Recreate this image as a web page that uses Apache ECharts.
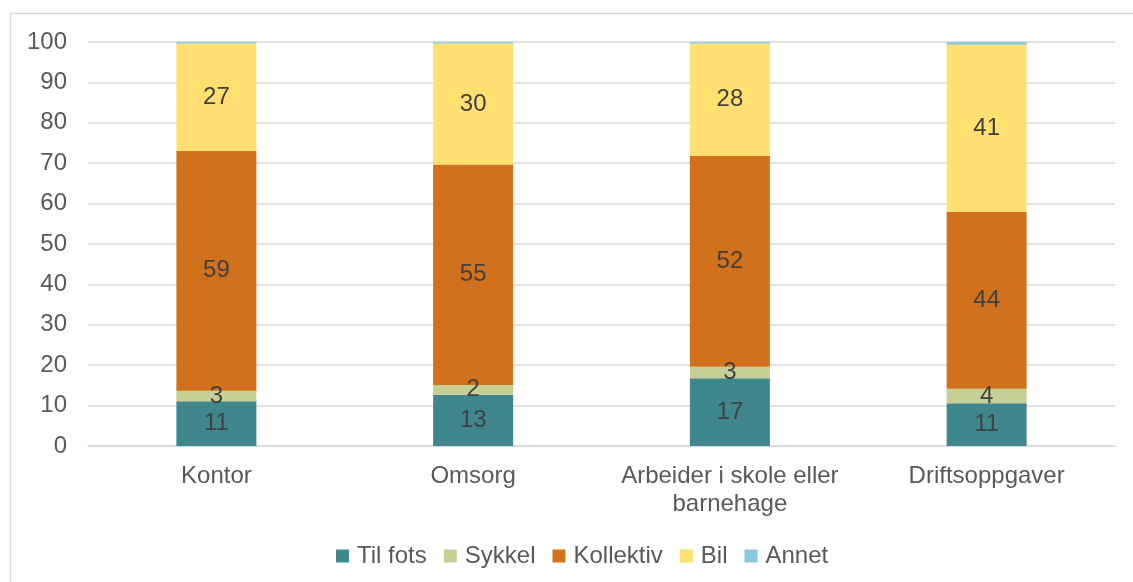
<!DOCTYPE html>
<html>
<head>
<meta charset="utf-8">
<script src="https://cdn.jsdelivr.net/npm/echarts@6/dist/echarts.min.js"></script>
<style>
  html, body { margin: 0; padding: 0; background: #fff; }
  #chart { width: 1133px; height: 582px; }
</style>
</head>
<body>
<div id="chart"></div>
<script>
// Reisemåte etter type arbeid (prosent)
const categories = ['Kontor', 'Omsorg', 'Arbeider i skole eller\nbarnehage', 'Driftsoppgaver'];
const tilFots = [11.1, 12.7, 16.8, 10.6];
const sykkel = [2.6, 2.4, 2.8, 3.6];
const kollektiv = [59.3, 54.6, 52.2, 43.8];
const bil = [26.6, 29.9, 27.8, 41.3];
const annet = [0.4, 0.4, 0.4, 0.7];
const yTicks = [0, 10, 20, 30, 40, 50, 60, 70, 80, 90, 100];

const font = 'Liberation Sans, Arial, sans-serif';
const size = 24;

function serie(name, data, color, showLabel) {
  return {
    name: name,
    type: 'bar',
    stack: 'total',
    barWidth: 80,
    data: data,
    itemStyle: { color: color },
    label: {
      show: showLabel,
      position: 'inside',
      color: '#404040',
      fontSize: size,
      fontFamily: font,
      formatter: p => Math.round(p.value)
    },
    emphasis: { disabled: true }
  };
}

const chart = echarts.init(document.getElementById('chart'));
chart.setOption({
  animation: false,
  backgroundColor: '#ffffff',
  grid: { left: 88, right: 18, top: 42, bottom: 136 },
  graphic: [{
    type: 'rect',
    shape: { x: 10.5, y: 13.5, width: 1140, height: 600 },
    style: { fill: 'none', stroke: '#d9d9d9', lineWidth: 1.5 },
    silent: true
  }],
  legend: {
    left: 331,
    top: 539,
    itemWidth: 13,
    itemHeight: 13,
    itemGap: 17,
    icon: 'rect',
    textStyle: { color: '#595959', fontSize: size, fontFamily: font, padding: [0, 0, 0, 3] },
    data: ['Til fots', 'Sykkel', 'Kollektiv', 'Bil', 'Annet']
  },
  xAxis: {
    type: 'category',
    data: categories,
    axisLine: { lineStyle: { color: '#d9d9d9', width: 1.5 } },
    axisTick: { show: false },
    axisLabel: { interval: 0, color: '#595959', fontSize: size, fontFamily: font, margin: 16, lineHeight: 28 }
  },
  yAxis: {
    type: 'value',
    min: yTicks[0],
    max: yTicks[yTicks.length - 1],
    interval: 10,
    axisLine: { show: false },
    axisTick: { show: false },
    splitLine: { lineStyle: { color: '#d9d9d9', width: 1.5 } },
    axisLabel: { color: '#595959', fontSize: size, fontFamily: font, margin: 21 }
  },
  series: [
    serie('Til fots', tilFots, '#3f878d', true),
    serie('Sykkel', sykkel, '#c6cf94', true),
    serie('Kollektiv', kollektiv, '#d2711c', true),
    serie('Bil', bil, '#ffe071', true),
    serie('Annet', annet, '#8dc8dd', false)
  ]
});
</script>
</body>
</html>
